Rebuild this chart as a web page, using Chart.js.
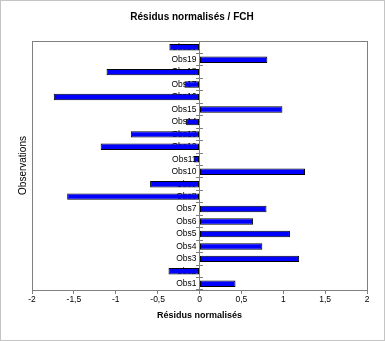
<!DOCTYPE html>
<html><head><meta charset="utf-8">
<script src="https://cdn.jsdelivr.net/npm/chart.js@4/dist/chart.umd.min.js"></script>
<style>html,body{margin:0;padding:0;background:#fff}</style>
</head><body>
<canvas id="c" width="385" height="341"></canvas>
<script>
const categories = ['Obs1','Obs2','Obs3','Obs4','Obs5','Obs6','Obs7','Obs8','Obs9','Obs10',
                    'Obs11','Obs12','Obs13','Obs14','Obs15','Obs16','Obs17','Obs18','Obs19','Obs20'];
const residuals = [0.43,-0.37,1.19,0.75,1.08,0.64,0.80,-1.58,-0.59,1.26,
                   -0.07,-1.18,-0.82,-0.16,0.99,-1.74,-0.18,-1.11,0.81,-0.36];
const xTicks = [-2,-1.5,-1,-0.5,0,0.5,1,1.5,2];
const chartTitle = 'Résidus normalisés / FCH';
const xTitle = 'Résidus normalisés';
const yTitle = 'Observations';

const FONT = "'Liberation Sans', Arial, sans-serif";
const GREY = '#808080';

const frame = {
  id: 'frame',
  beforeDraw(chart) {
    const ctx = chart.ctx;
    ctx.save();
    ctx.fillStyle = '#fff';
    ctx.fillRect(0, 0, chart.width, chart.height);
    ctx.restore();
  },
  afterDraw(chart) {
    const ctx = chart.ctx, a = chart.chartArea;
    ctx.save();
    ctx.strokeStyle = GREY;
    ctx.lineWidth = 1;
    ctx.strokeRect(Math.round(a.left) + 0.5, Math.round(a.top) + 0.5,
                   Math.round(a.right - a.left), Math.round(a.bottom - a.top));
    ctx.setLineDash([1, 1]);
    ctx.strokeStyle = '#888';
    ctx.strokeRect(0.5, 0.5, chart.width - 1, chart.height - 1);
    ctx.restore();
  }
};

new Chart(document.getElementById('c'), {
  type: 'bar',
  data: {
    labels: categories,
    datasets: [{
      data: residuals,
      yAxisID: 'y',
      xAxisID: 'x',
      backgroundColor: '#0000FF',
      borderColor: '#000000',
      borderWidth: 1,
      borderSkipped: false,
      barPercentage: 0.52,
      categoryPercentage: 1
    }]
  },
  options: {
    indexAxis: 'y',
    responsive: false,
    animation: false,
    devicePixelRatio: 1,
    layout: { padding: { left: 17, right: 18, top: 0, bottom: 16 } },
    plugins: {
      legend: { display: false },
      tooltip: { enabled: false },
      title: {
        display: true,
        text: chartTitle,
        color: '#000',
        font: { family: FONT, size: 10, weight: 'bold' },
        padding: { top: 11, bottom: 18 }
      }
    },
    scales: {
      x: {
        type: 'linear',
        position: 'bottom',
        min: -2, max: 2,
        afterBuildTicks: s => { s.ticks = xTicks.map(v => ({ value: v })); },
        grid: { display: true, drawOnChartArea: false, drawTicks: true, tickLength: 4, color: GREY },
        border: { display: true, color: GREY },
        ticks: {
          color: '#000',
          padding: 1,
          maxRotation: 0,
          autoSkip: false,
          font: { family: FONT, size: 8.5 },
          callback: v => String(v).replace('.', ',')
        },
        title: {
          display: true,
          text: xTitle,
          color: '#000',
          font: { family: FONT, size: 9, weight: 'bold' },
          padding: { top: 4, bottom: 4 }
        }
      },
      y: {
        type: 'category',
        position: 'center',
        reverse: true,
        offset: true,
        grid: { display: true, offset: true, drawOnChartArea: false, drawTicks: true, tickLength: 3, color: GREY },
        border: { display: true, color: GREY },
        ticks: {
          color: '#000',
          padding: 0,
          autoSkip: false,
          font: { family: FONT, size: 8.5 }
        }
      },
      yTicksRight: {
        type: 'category',
        position: 'center',
        labels: categories,
        reverse: true,
        offset: true,
        grid: { display: true, offset: true, drawOnChartArea: false, drawTicks: true, tickLength: -3, color: GREY },
        border: { display: false },
        ticks: { display: false, autoSkip: false }
      },
      yTitle: {
        type: 'category',
        position: 'left',
        labels: categories,
        grid: { display: false, drawTicks: false },
        border: { display: false },
        ticks: { display: false },
        title: {
          display: true,
          text: yTitle,
          color: '#000',
          font: { family: FONT, size: 10 },
          padding: { top: 0, bottom: 3 }
        }
      }
    }
  },
  plugins: [frame]
});
</script>
</body></html>
